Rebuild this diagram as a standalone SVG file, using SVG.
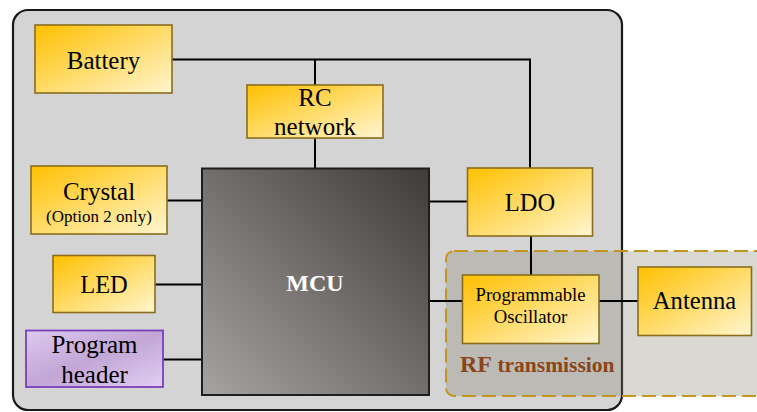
<svg xmlns="http://www.w3.org/2000/svg" width="757" height="412" viewBox="0 0 757 412">
  <defs>
    <linearGradient id="gold" x1="0" y1="0" x2="1" y2="1">
      <stop offset="0" stop-color="#ffc000"/>
      <stop offset="1" stop-color="#fff6d0"/>
    </linearGradient>
    <linearGradient id="purple" x1="0" y1="0" x2="1" y2="1">
      <stop offset="0" stop-color="#ddc9ee"/>
      <stop offset="0.5" stop-color="#c2a6d6"/>
      <stop offset="1" stop-color="#e2cff2"/>
    </linearGradient>
    <linearGradient id="mcu" x1="0" y1="1" x2="1" y2="0">
      <stop offset="0" stop-color="#a6a3a1"/>
      <stop offset="1" stop-color="#3f3b39"/>
    </linearGradient>
  </defs>
  <style>
    .box { fill: url(#gold); stroke: #8a6d1c; stroke-width: 1.6; }
    .wire { stroke: #000; stroke-width: 2; fill: none; }
  </style>

  <rect id="board" x="13" y="10" width="609" height="400" rx="15" fill="#d4d4d4" stroke="#1a1a1a" stroke-width="2.2"/>

  <g id="rf-region">
    <rect x="446" y="251" width="330" height="145" rx="8" fill="#827d69" fill-opacity="0.3" stroke="#c39422" stroke-width="2" stroke-dasharray="14 6"/>
    <text x="460" y="372" font-family="Liberation Serif, serif" font-weight="bold" fill="#8c4418"><tspan font-size="24px">RF</tspan><tspan font-size="21.5px"> transmission</tspan></text>
  </g>

  <g id="connectors">
    <polyline class="wire" points="172,59.5 530,59.5 530,168"/>
    <line class="wire" x1="315" y1="59.5" x2="315" y2="85"/>
    <line class="wire" x1="315" y1="138" x2="315" y2="168"/>
    <line class="wire" x1="167" y1="200.5" x2="202" y2="200.5"/>
    <line class="wire" x1="155" y1="284.5" x2="202" y2="284.5"/>
    <line class="wire" x1="163" y1="359.5" x2="202" y2="359.5"/>
    <line class="wire" x1="429" y1="201.5" x2="467" y2="201.5"/>
    <line class="wire" x1="531" y1="236" x2="531" y2="275"/>
    <line class="wire" x1="429" y1="301" x2="462" y2="301"/>
    <line class="wire" x1="599" y1="301" x2="638" y2="301"/>
  </g>

  <g id="battery">
    <rect class="box" x="35" y="25" width="137" height="68"/>
    <text x="103.5" y="69" font-family="Liberation Serif, serif" font-size="25" text-anchor="middle" fill="#000">Battery</text>
  </g>

  <g id="rc-network">
    <rect class="box" x="247" y="85" width="136" height="53"/>
    <text x="315" y="105.5" font-family="Liberation Serif, serif" font-size="25" text-anchor="middle" fill="#000">RC</text>
    <text x="315" y="134.5" font-family="Liberation Serif, serif" font-size="25" text-anchor="middle" fill="#000">network</text>
  </g>

  <g id="crystal">
    <rect class="box" x="31" y="166" width="136" height="68"/>
    <text x="99" y="200" font-family="Liberation Serif, serif" font-size="25" text-anchor="middle" fill="#000">Crystal</text>
    <text x="99" y="221.5" font-family="Liberation Serif, serif" font-size="17" text-anchor="middle" fill="#000">(Option 2 only)</text>
  </g>

  <g id="led">
    <rect class="box" x="53" y="255.5" width="102" height="57"/>
    <text x="104" y="293.3" font-family="Liberation Serif, serif" font-size="24.5" text-anchor="middle" fill="#000">LED</text>
  </g>

  <g id="program-header">
    <rect x="26" y="330.5" width="137" height="56.5" fill="url(#purple)" stroke="#7a3fbe" stroke-width="1.8"/>
    <text x="94.5" y="352.5" font-family="Liberation Serif, serif" font-size="25" text-anchor="middle" fill="#000">Program</text>
    <text x="94.5" y="382.5" font-family="Liberation Serif, serif" font-size="25" text-anchor="middle" fill="#000">header</text>
  </g>

  <g id="mcu-node">
    <rect x="202" y="168.5" width="227" height="226.5" fill="url(#mcu)" stroke="#1e1e1e" stroke-width="2"/>
    <text x="315" y="290.7" font-family="Liberation Serif, serif" font-size="24" font-weight="bold" fill="#ffffff" text-anchor="middle">MCU</text>
  </g>

  <g id="ldo">
    <rect class="box" x="467.5" y="168" width="125" height="68"/>
    <text x="530" y="210.7" font-family="Liberation Serif, serif" font-size="24.5" text-anchor="middle" fill="#000">LDO</text>
  </g>

  <g id="oscillator">
    <rect class="box" x="462.5" y="275" width="136.5" height="68.5"/>
    <text x="530.5" y="300.7" font-family="Liberation Serif, serif" font-size="18.7" text-anchor="middle" fill="#000">Programmable</text>
    <text x="530.5" y="322.7" font-family="Liberation Serif, serif" font-size="18.7" text-anchor="middle" fill="#000">Oscillator</text>
  </g>

  <g id="antenna">
    <rect class="box" x="638" y="267" width="113.5" height="68.5"/>
    <text x="694.5" y="309.3" font-family="Liberation Serif, serif" font-size="24.6" text-anchor="middle" fill="#000">Antenna</text>
  </g>
</svg>
